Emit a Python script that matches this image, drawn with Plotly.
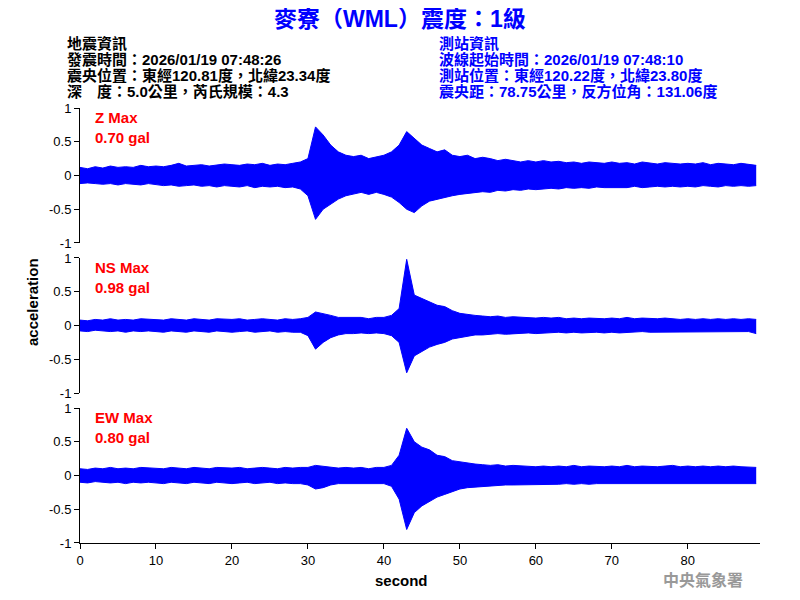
import plotly.graph_objects as go

# envelope of each trace, one value per second (t = 0 .. 89 s)
seconds = list(range(90))

z_upper = [.12, .10, .13, .11, .14, .12, .13, .12, .15, .13,
           .14, .13, .15, .18, .14, .15, .16, .14, .15, .17,
           .16, .15, .17, .16, .18, .15, .17, .16, .18, .20,
           .25, .72, .60, .45, .35, .30, .28, .30, .25, .28,
           .30, .35, .45, .65, .55, .45, .40, .35, .38, .30,
           .28, .30, .25, .27, .25, .22, .24, .22, .20, .22,
           .20, .22, .20, .21, .19, .20, .18, .20, .19, .18,
           .20, .18, .19, .17, .20, .18, .17, .19, .18, .17,
           .18, .17, .19, .16, .18, .17, .16, .18, .17, .15]
z_lower = [-.12, -.11, -.12, -.13, -.12, -.14, -.12, -.13, -.14, -.12,
           -.13, -.15, -.14, -.16, -.15, -.14, -.16, -.15, -.17, -.15,
           -.16, -.17, -.15, -.18, -.16, -.17, -.16, -.18, -.17, -.20,
           -.30, -.65, -.50, -.42, -.35, -.30, -.28, -.25, -.28, -.25,
           -.28, -.32, -.40, -.50, -.55, -.45, -.38, -.35, -.32, -.30,
           -.28, -.27, -.25, -.24, -.25, -.22, -.23, -.21, -.22, -.20,
           -.21, -.20, -.19, -.20, -.18, -.19, -.18, -.19, -.17, -.18,
           -.18, -.17, -.18, -.16, -.18, -.17, -.16, -.17, -.16, -.17,
           -.16, -.17, -.15, -.16, -.17, -.15, -.16, -.15, -.16, -.15]

ns_upper = [.08, .07, .09, .08, .10, .08, .09, .08, .10, .09,
            .09, .08, .10, .09, .08, .10, .09, .08, .10, .09,
            .09, .10, .08, .09, .10, .09, .08, .10, .09, .10,
            .12, .20, .18, .15, .12, .12, .11, .12, .10, .12,
            .12, .15, .25, .98, .45, .40, .35, .30, .28, .22,
            .18, .16, .15, .14, .13, .14, .12, .13, .12, .12,
            .11, .12, .11, .12, .10, .11, .10, .11, .10, .10,
            .11, .10, .12, .10, .11, .10, .10, .11, .10, .09,
            .10, .09, .10, .09, .10, .09, .10, .09, .10, .09]
ns_lower = [-.08, -.09, -.07, -.08, -.09, -.08, -.10, -.08, -.09, -.08,
            -.09, -.10, -.08, -.09, -.10, -.08, -.09, -.10, -.08, -.09,
            -.10, -.09, -.08, -.10, -.09, -.08, -.10, -.09, -.10, -.10,
            -.15, -.35, -.25, -.18, -.14, -.12, -.12, -.11, -.12, -.11,
            -.12, -.15, -.25, -.70, -.45, -.38, -.32, -.28, -.25, -.20,
            -.18, -.15, -.14, -.14, -.13, -.12, -.13, -.12, -.12, -.11,
            -.12, -.11, -.11, -.10, -.11, -.10, -.11, -.10, -.10, -.11,
            -.10, -.11, -.10, -.10, -.09, -.10, -.10, -.09, -.10, -.09,
            -.10, -.09, -.09, -.10, -.09, -.09, -.10, -.09, -.09, -.12]

ew_upper = [.10, .09, .11, .10, .12, .10, .11, .10, .12, .11,
            .11, .10, .12, .11, .10, .12, .11, .10, .12, .11,
            .11, .12, .10, .11, .12, .11, .10, .12, .11, .12,
            .12, .15, .14, .12, .11, .12, .11, .12, .10, .12,
            .12, .15, .30, .70, .50, .42, .38, .30, .28, .22,
            .20, .18, .17, .16, .15, .16, .14, .15, .14, .14,
            .13, .14, .13, .14, .13, .15, .13, .14, .13, .13,
            .14, .13, .15, .13, .14, .13, .13, .14, .15, .13,
            .14, .13, .14, .13, .14, .13, .14, .13, .12, .12]
ew_lower = [-.10, -.11, -.09, -.10, -.11, -.10, -.12, -.10, -.11, -.10,
            -.11, -.12, -.10, -.11, -.12, -.10, -.11, -.12, -.10, -.11,
            -.12, -.11, -.10, -.12, -.11, -.10, -.12, -.11, -.12, -.12,
            -.14, -.20, -.18, -.14, -.12, -.12, -.11, -.12, -.11, -.12,
            -.12, -.16, -.35, -.80, -.55, -.45, -.38, -.32, -.28, -.24,
            -.20, -.18, -.17, -.16, -.15, -.15, -.14, -.14, -.14, -.13,
            -.13, -.14, -.13, -.13, -.12, -.13, -.12, -.13, -.12, -.12,
            -.13, -.12, -.12, -.13, -.12, -.12, -.13, -.12, -.12, -.12,
            -.12, -.13, -.12, -.12, -.13, -.12, -.12, -.12, -.12, -.12]

components = [("Z Max", "0.70 gal", z_upper, z_lower),
              ("NS Max", "0.98 gal", ns_upper, ns_lower),
              ("EW Max", "0.80 gal", ew_upper, ew_lower)]
domains = [[0.6897, 1.0], [0.3448, 0.6552], [0.0, 0.3103]]

left_info = ["地震資訊", "發震時間：2026/01/19 07:48:26",
             "震央位置：東經120.81度，北緯23.34度", "深　度：5.0公里，芮氏規模：4.3"]
right_info = ["測站資訊", "波線起始時間：2026/01/19 07:48:10",
              "測站位置：東經120.22度，北緯23.80度", "震央距：78.75公里，反方位角：131.06度"]

font = "Arial, Liberation Sans, Noto Sans CJK TC, sans-serif"
blue = "#0000ff"

# the page is shown with an 8 px body margin, so pixel targets are shifted by -8
OFF = 8
PL, PT, PB = 80 - OFF, 108 - OFF, 543 - OFF
PW, PH = 680, 435


def px(x):
    return (x - OFF - PL) / PW


def py(y):
    return (PB - (y - OFF)) / PH


fig = go.Figure()
layout = {}
for i, (name, peak, up, lo) in enumerate(components):
    n = "" if i == 0 else str(i + 1)
    fig.add_trace(go.Scatter(x=seconds, y=up, mode="lines", line=dict(color=blue, width=1),
                             xaxis="x" + n, yaxis="y" + n, hoverinfo="skip"))
    fig.add_trace(go.Scatter(x=seconds, y=lo, mode="lines", line=dict(color=blue, width=1),
                             fill="tonexty", fillcolor=blue,
                             xaxis="x" + n, yaxis="y" + n, hoverinfo="skip"))
    layout["xaxis" + n] = dict(domain=[0, 1], anchor="y" + n, range=[0, 89.5],
                               showgrid=False, zeroline=False, showline=(i == 2),
                               linecolor="black", ticks="outside" if i == 2 else "",
                               showticklabels=(i == 2), dtick=10, tickcolor="black",
                               matches=None if i == 0 else "x")
    layout["yaxis" + n] = dict(domain=domains[i], anchor="x" + n, range=[-1, 1],
                               tickvals=[-1, -0.5, 0, 0.5, 1], ticktext=["-1", "-0.5", "0", "0.5", "1"],
                               showgrid=False, zeroline=False, showline=True, linecolor="black",
                               ticks="outside", tickcolor="black", ticklen=5)
fig.update_layout(**layout)

ann = []
for i, (name, peak, up, lo) in enumerate(components):
    top = [117, 267, 417][i]
    for k, t in enumerate([name, peak]):
        ann.append(dict(x=px(93), y=py(top + 20 * k), xref="paper", yref="paper", text="<b>" + t + "</b>",
                        showarrow=False, xanchor="left", yanchor="middle",
                        font=dict(color="red", size=15)))
ann.append(dict(x=px(400), y=py(19), xref="paper", yref="paper", text="<b>麥寮（WML）震度：1級</b>",
                showarrow=False, xanchor="center", yanchor="middle",
                font=dict(color=blue, size=23)))
for j, line in enumerate(left_info):
    ann.append(dict(x=px(65), y=py(43 + 16 * j), xref="paper", yref="paper",
                    text="<b>" + line + "</b>", showarrow=False, xanchor="left", yanchor="middle",
                    font=dict(color="black", size=15)))
for j, line in enumerate(right_info):
    ann.append(dict(x=px(437), y=py(43 + 16 * j), xref="paper", yref="paper",
                    text="<b>" + line + "</b>", showarrow=False, xanchor="left", yanchor="middle",
                    font=dict(color=blue, size=15)))
ann.append(dict(x=px(32), y=py(302), xref="paper", yref="paper", text="<b>acceleration</b>",
                textangle=-90, showarrow=False, xanchor="center", yanchor="middle",
                font=dict(color="black", size=15)))
ann.append(dict(x=px(401), y=py(580), xref="paper", yref="paper", text="<b>second</b>",
                showarrow=False, xanchor="center", yanchor="middle",
                font=dict(color="black", size=15)))
ann.append(dict(x=px(745), y=py(580), xref="paper", yref="paper",
                text="<b>中央氣象署</b>", showarrow=False, xanchor="right", yanchor="middle",
                font=dict(color="#999999", size=16)))

fig.update_layout(annotations=ann, showlegend=False, width=800, height=600,
                  margin=dict(l=PL, r=800 - PL - PW, t=PT, b=600 - PB),
                  plot_bgcolor="white", paper_bgcolor="white",
                  font=dict(family=font, color="black", size=13))
fig.write_html("out.html")
